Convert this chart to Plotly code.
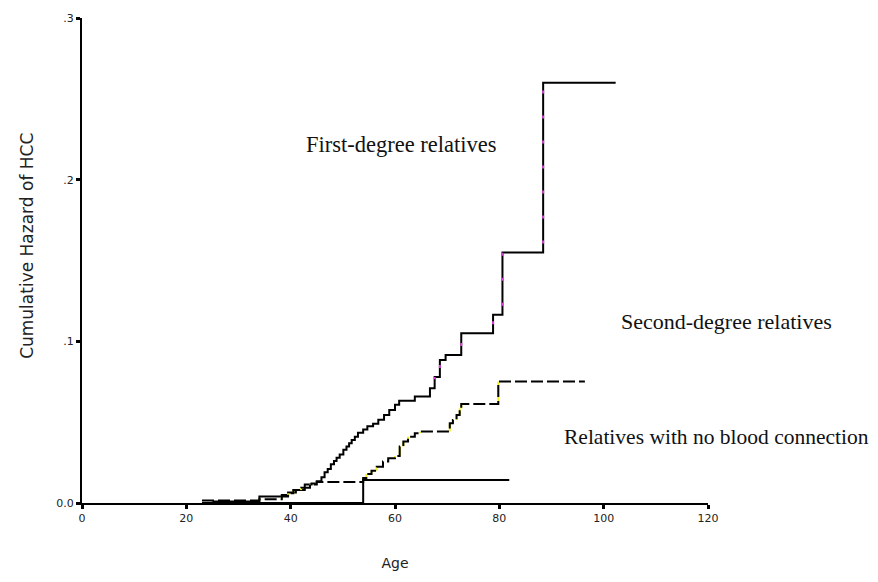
import plotly.graph_objects as go

# ---- data ----
first_age = [25, 34.0, 38.3, 39.5, 41.0, 42.7, 44.0, 45.0, 45.9, 46.5, 47.1, 47.7, 48.3, 48.8,
             49.4, 50.1, 50.7, 51.2, 51.7, 52.3, 52.9, 53.9, 54.7, 55.8, 56.8, 57.9, 58.9,
             60.0, 60.8, 63.8, 66.7, 67.6, 68.6, 69.7, 72.7, 78.8, 80.6, 88.4, 102.3]
first_haz = [0.001, 0.004, 0.005, 0.0065, 0.008, 0.0115, 0.012, 0.0135, 0.016, 0.019, 0.021,
             0.024, 0.026, 0.028, 0.030, 0.033, 0.035, 0.037, 0.039, 0.041, 0.0435, 0.0455,
             0.0475, 0.049, 0.0515, 0.0545, 0.0575, 0.0607, 0.0633, 0.0658, 0.071, 0.078,
             0.0885, 0.0916, 0.105, 0.1164, 0.155, 0.26, 0.26]

second_age = [23, 34.0, 38.3, 39.5, 40.5, 42.0, 43.7, 45.0, 53.9, 54.5, 55.5, 56.5, 57.7, 58.7,
              60.0, 60.9, 61.6, 62.5, 63.8, 64.8, 70.5, 71.1, 71.8, 72.4, 72.7, 79.8, 96.4]
second_haz = [0.0015, 0.0023, 0.004, 0.006, 0.008, 0.0095, 0.0115, 0.013, 0.0155, 0.018, 0.020,
              0.0225, 0.0256, 0.0277, 0.0291, 0.0349, 0.038, 0.041, 0.0432, 0.0442, 0.0493,
              0.0514, 0.0545, 0.0586, 0.0613, 0.0751, 0.0751]

noblood_age = [23, 53.9, 81.9]
noblood_haz = [0.0, 0.0142, 0.0142]

x_ticks = [0, 20, 40, 60, 80, 100, 120]
y_ticks = [0.0, 0.1, 0.2, 0.3]
y_tick_text = ["0.0", ".1", ".2", ".3"]

labels = ["First-degree relatives", "Second-degree relatives",
          "Relatives with no blood connection"]
label_x = [61.2, 123.5, 121.7]      # age units
label_y = [0.222, 0.112, 0.041]     # hazard units
label_size = [22.5, 22, 21.5]

X_MAX = 120
Y_MAX = 0.3


def vertical_segments(ages, hazards):
    xs, ys = [], []
    for i in range(1, len(ages)):
        if hazards[i] != hazards[i - 1]:
            xs += [ages[i], ages[i], None]
            ys += [hazards[i - 1], hazards[i], None]
    return xs, ys


fig = go.Figure()

# first-degree: solid black, magenta flecks on the rises
fig.add_trace(go.Scatter(x=first_age, y=first_haz, mode="lines", line_shape="hv",
                         line=dict(color="black", width=2), cliponaxis=False,
                         name=labels[0], showlegend=False))
vx, vy = vertical_segments(first_age, first_haz)
fig.add_trace(go.Scatter(x=vx, y=vy, mode="lines",
                         line=dict(color="#e040e0", width=2, dash="0px,9px,3px,13px"),
                         cliponaxis=False, hoverinfo="skip", showlegend=False))

# second-degree: black dashes, yellow showing on the rises
vx2, vy2 = vertical_segments(second_age, second_haz)
fig.add_trace(go.Scatter(x=vx2, y=vy2, mode="lines",
                         line=dict(color="#f2f222", width=2),
                         cliponaxis=False, hoverinfo="skip", showlegend=False))
fig.add_trace(go.Scatter(x=second_age, y=second_haz, mode="lines", line_shape="hv",
                         line=dict(color="black", width=2, dash="12px,4px"), cliponaxis=False,
                         name=labels[1], showlegend=False))

# no blood connection: solid black
fig.add_trace(go.Scatter(x=noblood_age, y=noblood_haz, mode="lines", line_shape="hv",
                         line=dict(color="black", width=2), cliponaxis=False,
                         name=labels[2], showlegend=False))

for t, xx, yy, sz in zip(labels, label_x, label_y, label_size):
    fig.add_annotation(x=xx / X_MAX, y=yy, xref="paper", yref="y", text=t, showarrow=False,
                       xanchor="center", yanchor="middle",
                       font=dict(family="Liberation Serif", size=sz, color="#111"))

# y-axis title (as an annotation, slightly above the plot centre as in the reference)
fig.add_annotation(x=-0.088, y=0.53, xref="paper", yref="paper",
                   text="Cumulative Hazard of HCC", textangle=-90, showarrow=False,
                   xanchor="center", yanchor="middle",
                   font=dict(family="DejaVu Sans", size=17, color="#222"))

fig.update_layout(
    width=862, height=566,
    margin=dict(l=74, r=162, t=10, b=71),
    paper_bgcolor="white", plot_bgcolor="white",
    font=dict(family="DejaVu Sans", color="#222"),
)
fig.update_xaxes(range=[0, X_MAX], tickvals=x_ticks, showgrid=False, zeroline=False,
                 showline=True, linecolor="black", linewidth=2, automargin=False,
                 ticks="outside", ticklen=4, tickwidth=3, tickcolor="black",
                 tickfont=dict(family="DejaVu Sans", size=11, color="#222"),
                 title=dict(text="Age", font=dict(family="DejaVu Sans", size=14, color="#222"),
                            standoff=34))
fig.update_yaxes(range=[0, Y_MAX], tickvals=y_ticks, ticktext=y_tick_text, showgrid=False,
                 zeroline=False, showline=True, linecolor="black", linewidth=2,
                 automargin=False,
                 ticks="outside", ticklen=4, tickwidth=3, tickcolor="black",
                 tickfont=dict(family="DejaVu Sans", size=11, color="#222"))

fig.write_html("out.html")
